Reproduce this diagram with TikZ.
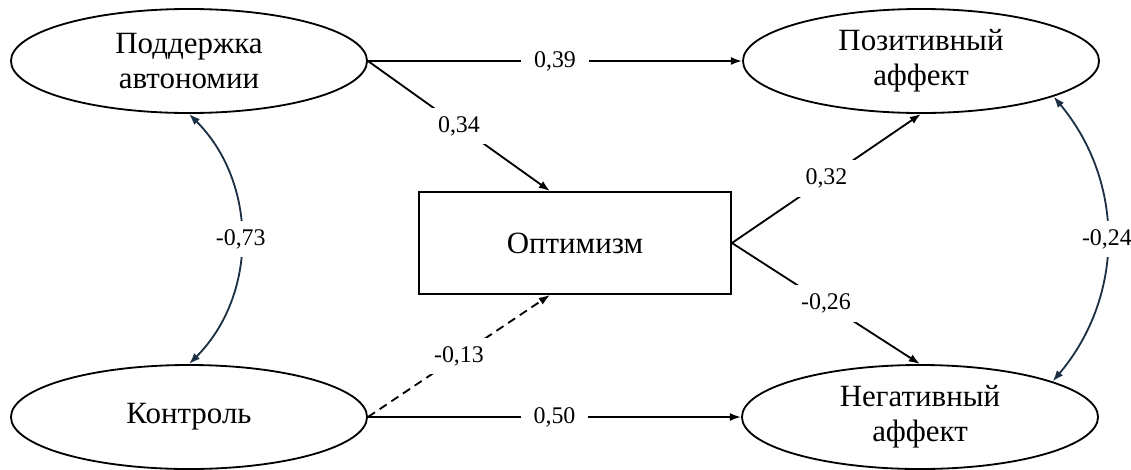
\documentclass[tikz,border=0pt]{standalone}
\usepackage{fontspec}
\setmainfont{Liberation Serif}
\usetikzlibrary{arrows.meta, shapes.geometric, positioning}

\definecolor{corrblue}{RGB}{28,48,68}

\begin{document}
\begin{tikzpicture}[x=0.025cm, y=-0.025cm,
  latent/.style={draw, ellipse, line width=1.3pt, minimum width=8.9cm, minimum height=2.6cm, inner sep=0pt, align=center, font=\fontsize{22}{25}\selectfont},
  mediator/.style={draw, rectangle, line width=1.3pt, minimum width=7.8cm, minimum height=2.55cm, font=\fontsize{22}{25}\selectfont},
  effect/.style={line width=1.3pt, -{Latex[length=2.8mm, width=2mm]}},
  corr/.style={line width=1.3pt, corrblue, {Latex[length=2.8mm, width=2mm]}-{Latex[length=2.8mm, width=2mm]}},
  coef/.style={fill=white, inner xsep=9pt, inner ysep=6pt, text=black, font=\fontsize{17}{19}\selectfont}]
\useasboundingbox (0,0) rectangle (1131,469);

% Latent variables
\node[latent] (autonomy) at (189,61) {Поддержка\\автономии};
\node[latent] (control) at (189,417) {Контроль};
\node[latent] (posaff) at (921,61) {Позитивный\\аффект};
\node[latent] (negaff) at (920,417) {Негативный\\аффект};

% Mediator
\node[mediator] (optimism) at (575,243) {Оптимизм};

% Direct paths
\draw[effect] (autonomy.east) -- node[coef] {0,39} (posaff.west);
\draw[effect] (control.east) -- node[coef] {0,50} (negaff.west);

% Paths through optimism
\draw[effect] (autonomy.east) -- node[coef] {0,34} ([xshift=-0.625cm]optimism.north);
\draw[effect, dash pattern=on 6pt off 4pt] (control.east) -- node[coef] {-0,13} ([xshift=-0.625cm]optimism.south);
\draw[effect] (optimism.east) -- node[coef] {0,32} (posaff.south);
\draw[effect] (optimism.east) -- node[coef] {-0,26} (negaff.north);

% Correlations
\draw[corr] (autonomy.south) to[bend left=45] node[coef] {-0,73} (control.north);
\draw[corr] (posaff.-15) to[bend left=40] node[coef] {-0,24} (negaff.15);

\end{tikzpicture}
\end{document}
